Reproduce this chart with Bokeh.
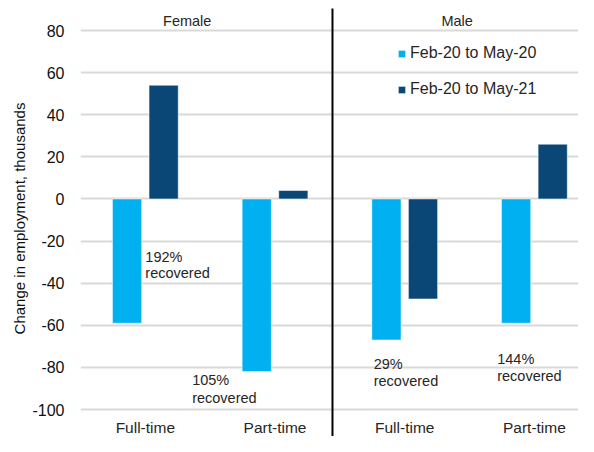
import numpy as np
from bokeh.plotting import figure
from bokeh.models import ColumnDataSource, Range1d, FixedTicker, Legend, LegendItem
from bokeh.core.properties import value
from bokeh.transform import dodge
from bokeh.embed import file_html
from bokeh.resources import INLINE

# ---- data ----
categories = ["Full-time", "Part-time", "Full-time", "Part-time"]
groups = ["Female", "Male"]
series_names = ["Feb-20 to May-20", "Feb-20 to May-21"]
feb20_may20 = [-59, -82, -67, -59]
feb20_may21 = [54, 4, -47.5, 26]
recovered_pct = ["192%", "105%", "29%", "144%"]
y_ticks = [-100, -80, -60, -40, -20, 0, 20, 40, 60, 80]

LIGHT = "#00B0F0"
DARK = "#0A4777"
FONT = "Liberation Sans"

xs = np.arange(len(categories))
src = ColumnDataSource(dict(x=xs, a=feb20_may20, b=feb20_may21))

p = figure(width=578, height=436, output_backend="svg", toolbar_location=None,
           x_range=Range1d(-0.5, 3.34), y_range=Range1d(-112.82, 94.25),
           min_border_left=80, min_border_right=0, min_border_top=0, min_border_bottom=0)
p.outline_line_color = None
p.background_fill_color = "white"
p.border_fill_color = "white"

# grid
p.xgrid.visible = False
p.ygrid.ticker = FixedTicker(ticks=y_ticks)
p.ygrid.grid_line_color = "#D9D9D9"
p.ygrid.grid_line_width = 2

# axes
p.xaxis.visible = False
ya = p.yaxis[0]
ya.ticker = FixedTicker(ticks=y_ticks)
ya.major_label_overrides = {t: str(t) for t in y_ticks}
ya.axis_line_color = None
ya.major_tick_line_color = None
ya.minor_tick_line_color = None
ya.major_label_standoff = 10
ya.major_label_text_font = FONT
ya.major_label_text_font_size = "16px"
ya.major_label_text_color = "#111111"
ya.axis_label = "Change in employment, thousands"
ya.axis_label_text_font = FONT
ya.axis_label_text_font_size = "15px"
ya.axis_label_text_font_style = "normal"
ya.axis_label_text_color = "#111111"
ya.axis_label_standoff = 1

W = 0.225
OFF = 0.141
r1 = p.vbar(x=dodge("x", -OFF, range=p.x_range), top="a", bottom=0, width=W, source=src,
            fill_color=LIGHT, line_color="white", line_alpha=0.5, line_width=1)
r2 = p.vbar(x=dodge("x", OFF, range=p.x_range), top="b", bottom=0, width=W, source=src,
            fill_color=DARK, line_color="white", line_alpha=0.5, line_width=1)

# divider between Female and Male
p.segment(x0=[1.443], y0=[90.45], x1=[1.443], y1=[-113], line_color="black", line_width=2)

# group labels
p.text(x=[0.323, 2.404], y=[84.75, 84.75], text=groups, text_align="center", text_baseline="middle",
       text_font=value(FONT), text_font_size="14.5px", text_color="#262626")

# category labels
p.text(x=xs, y=[-108.5] * 4, text=categories, text_align="center", text_baseline="middle",
       text_font=value(FONT), text_font_size="15.5px", text_color="#262626")

# recovery annotations (positions)
ann_x = [0.0, 0.361, 1.761, 2.713]
ann_y1 = [-27.6, -86.0, -78.4, -75.8]
ann_y2 = [-35.4, -94.6, -86.3, -84.1]
p.text(x=ann_x, y=ann_y1, text=recovered_pct, text_align="left", text_baseline="middle",
       text_font=value(FONT), text_font_size="14.5px", text_color="#262626")
p.text(x=ann_x, y=ann_y2, text=["recovered"] * 4, text_align="left", text_baseline="middle",
       text_font=value(FONT), text_font_size="14.5px", text_color="#262626")

# legend
legend = Legend(items=[LegendItem(label=series_names[0], renderers=[r1]),
                       LegendItem(label=series_names[1], renderers=[r2])],
                location=(317, 337), orientation="vertical",
                glyph_width=9, glyph_height=9, label_standoff=4, label_height=20,
                spacing=16, padding=0, margin=0,
                label_text_font=FONT, label_text_font_size="16px", label_text_color="#262626",
                border_line_color=None, background_fill_alpha=0)
p.add_layout(legend, "center")

open("out.html", "w").write(file_html(p, INLINE))
